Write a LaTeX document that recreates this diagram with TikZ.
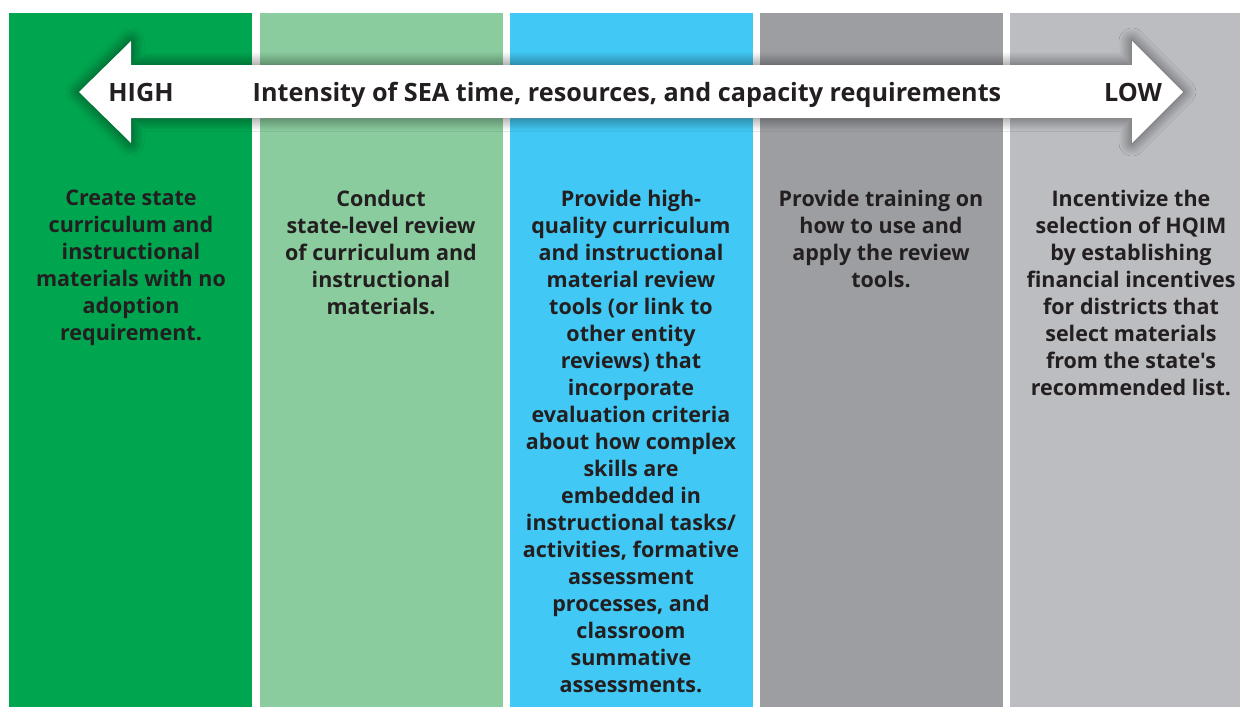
\documentclass[tikz,border=0pt]{standalone}
\usepackage{fontspec}
\setmainfont{Open Sans}[Ligatures=TeXOff]
\usetikzlibrary{shadows.blur}
\definecolor{cA}{HTML}{00A64F}
\definecolor{cB}{HTML}{8ACC9E}
\definecolor{cC}{HTML}{42C8F4}
\definecolor{cD}{HTML}{9D9EA2}
\definecolor{cE}{HTML}{BCBDC1}
\definecolor{ink}{HTML}{231F20}
\tikzset{
  coltext/.style={anchor=north, inner sep=0pt, align=center, text=ink,
    font=\fontsize{21.5}{27}\selectfont\bfseries},
  arrtext/.style={anchor=base, inner sep=0pt, text=ink,
    font=\fontsize{25.2}{30}\selectfont\bfseries},
}
\begin{document}
\begin{tikzpicture}[x=1pt,y=-1pt]
\useasboundingbox[fill=white] (0,0) rectangle (1240,707);
\fill[cA] (9,13) rectangle (252,707);
\fill[cB] (260,13) rectangle (503,707);
\fill[cC] (510,13) rectangle (753,707);
\fill[cD] (760,13) rectangle (1003,707);
\fill[cE] (1010,13) rectangle (1240,707);
\fill[white, blur shadow={shadow xshift=0pt, shadow yshift=0pt, shadow blur radius=13pt, shadow blur steps=24, shadow opacity=60}]
  (79,92) -- (131,41) -- (131,65) -- (1132,65) -- (1132,41) -- (1183,92)
  -- (1132,143) -- (1132,118) -- (131,118) -- (131,143) -- cycle;
\node[arrtext] (high) at (141,101) {HIGH};
\node[arrtext] (mid) at (627,101) {Intensity of SEA time, resources, and capacity requirements};
\node[arrtext] (low) at (1133,101) {LOW};
\node[coltext] (t1) at (131,190) {Create state\\curriculum and\\instructional\\materials with no\\adoption\\requirement.};
\node[coltext] (t2) at (381,190) {Conduct\\state-level review\\of curriculum and\\instructional\\materials.};
\node[coltext] (t3) at (631,190) {Provide high-\\quality curriculum\\and instructional\\material review\\tools (or link to\\other entity\\reviews) that\\incorporate\\evaluation criteria\\about how complex\\skills are\\embedded in\\instructional tasks/\\activities, formative\\assessment\\processes, and\\classroom\\summative\\assessments.};
\node[coltext] (t4) at (881,190) {Provide training on\\how to use and\\apply the review\\tools.};
\node[coltext] (t5) at (1131,190) {Incentivize the\\selection of HQIM\\by establishing\\financial incentives\\for districts that\\select materials\\from the state's\\recommended list.};
\end{tikzpicture}
\end{document}
